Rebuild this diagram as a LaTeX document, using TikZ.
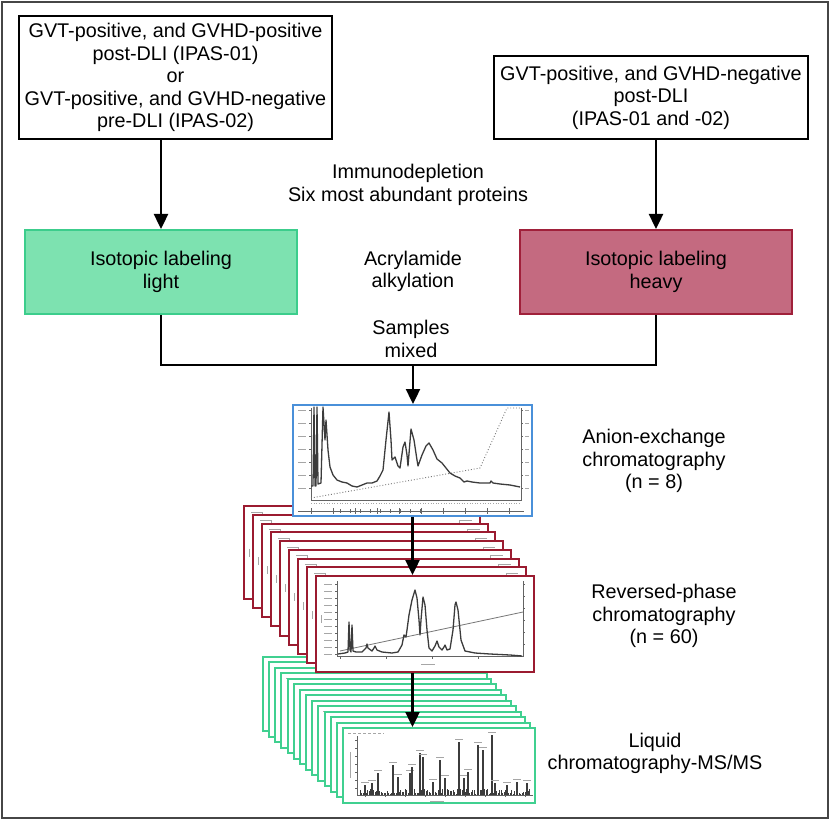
\documentclass[tikz,border=0pt]{standalone}
\usepackage{fontspec}
\setmainfont{Liberation Sans}
\usetikzlibrary{arrows.meta}
\definecolor{lightgreen}{RGB}{125,226,176}
\definecolor{greenedge}{RGB}{60,205,140}
\definecolor{heavyred}{RGB}{196,106,128}
\definecolor{rededge}{RGB}{160,32,58}
\definecolor{framered}{RGB}{155,27,48}
\definecolor{framegreen}{RGB}{64,208,144}
\definecolor{blueedge}{RGB}{74,144,217}
\definecolor{plotgray}{RGB}{60,60,60}
\definecolor{framegray}{RGB}{70,70,70}
\begin{document}
\begin{tikzpicture}[x=1pt,y=-1pt,
  lbl/.style={align=center, font=\fontsize{19.8}{22.6}\selectfont, inner sep=0pt},
  topbox/.style={lbl, draw=black, line width=2pt, fill=white},
  lightbox/.style={lbl, draw=greenedge, line width=2pt, fill=lightgreen},
  heavybox/.style={lbl, draw=rededge, line width=2pt, fill=heavyred},
  rframe/.style={draw=framered, line width=2pt, fill=white},
  gframe/.style={draw=framegreen, line width=2pt, fill=white},
  bframe/.style={draw=blueedge, line width=2pt, fill=white},
  conn/.style={line width=2.4pt, draw=black},
  arr/.style={conn, -{Triangle[length=15pt,width=14pt]}},
  curve/.style={draw=plotgray, line width=1.3pt, line join=round},
  axis/.style={draw=plotgray!80, line width=0.6pt},
  tiny/.style={draw=gray!70, line width=0.6pt}]
\useasboundingbox (0,0) rectangle (830,821);
\fill[white] (0,0) rectangle (830,821);
\draw[framegray, line width=1.5pt] (2,2) rectangle (828,818);

% top boxes
\node[topbox, minimum width=313pt, minimum height=123pt] (tl) at (175.5,77.5)
  {GVT-positive, and GVHD-positive\\post-DLI (IPAS-01)\\or\\GVT-positive, and GVHD-negative\\pre-DLI (IPAS-02)};
\node[topbox, minimum width=314pt, minimum height=83pt] (tr) at (651,97.5)
  {GVT-positive, and GVHD-negative\\post-DLI\\(IPAS-01 and -02)};
\node[lbl] (immuno) at (408,185) {Immunodepletion\\Six most abundant proteins};

% labeling boxes
\node[lightbox, minimum width=272pt, minimum height=84pt] (light) at (161,272) {Isotopic labeling\\light};
\node[heavybox, minimum width=272pt, minimum height=84pt] (heavy) at (656,272) {Isotopic labeling\\heavy};
\node[lbl] (acryl) at (413,271.5) {Acrylamide\\alkylation};
\node[lbl] (mixed) at (411,339) {Samples\\mixed};

% right labels
\node[lbl] (anion) at (654,461) {Anion-exchange\\chromatography\\(n = 8)};
\node[lbl] (rp) at (664,616) {Reversed-phase\\chromatography\\(n = 60)};
\node[lbl] (lc) at (655,753.5) {Liquid\\chromatography-MS/MS};

% green stack (LC-MS/MS spectra)
\foreach \i in {0,...,12}{
  \pgfmathsetmacro\l{263+6.15*\i}
  \pgfmathsetmacro\t{657+5.46*\i}
  \pgfmathsetmacro\w{209-1.3*\i}
  \pgfmathsetmacro\h{74+0.07*\i}
  \draw[gframe] (\l,\t) rectangle ++(\w,\h);
  \draw[tiny, dash pattern=on 3pt off 2pt] (\l+5,\t+5) -- ++(36,0);
  \draw[tiny] (\l+7,\t+24) -- ++(0,24);
}
\node[gframe, minimum width=192pt, minimum height=75pt, inner sep=0pt] (gf) at (439,765.5) {};
\draw[axis] (357,736) -- (357,795) -- (533,795);
\foreach \yy in {740,748,...,792} \draw[axis] (355,\yy) -- (357,\yy);
\foreach \xx in {365,385,...,525} \draw[axis] (\xx,795) -- (\xx,797);
\draw[tiny, dash pattern=on 3pt off 2pt] (348,733) -- ++(36,0);
\draw[tiny] (350,752) -- ++(0,26);
\draw[tiny] (430,801) -- ++(14,0);
\pgfmathsetseed{7}
\foreach \xx in {360,361.5,...,530}{
  \pgfmathsetmacro\hh{1+5*rnd}
  \draw[plotgray, line width=0.8pt] (\xx,795) -- ++(0,-\hh);
}
\foreach \xx/\yy in {365/785,372/783,378/773,393/765,398/777,410/773,412/767,420/753,423/757,433/782,440/760,445/778,459/742,464/778,468/772,478/745,483/750,492/735,495/783,507/785,517/782,527/783}{
  \draw[plotgray, line width=1.1pt] (\xx,795) -- (\xx,\yy);
  \draw[tiny, line width=0.5pt] (\xx-4,\yy-3) -- ++(8,0);
}

% red stack (reversed-phase chromatograms)
\foreach \i in {0,...,7}{
  \pgfmathsetmacro\l{244+9*\i}
  \pgfmathsetmacro\t{506+8.75*\i}
  \pgfmathsetmacro\w{228-1.25*\i}
  \pgfmathsetmacro\h{93+0.375*\i}
  \draw[rframe] (\l,\t) rectangle ++(\w,\h);
  \draw[tiny, dotted, line width=1pt] (\l+8,\t+14) -- (\l+8,\t+\h-10);
  \draw[tiny] (\l+7,\t+6) -- ++(11,0) -- ++(0,4);
  \draw[tiny] (\l+\w-20,\t+10) -- ++(0,-4) -- ++(12,0);
  \draw[tiny] (\l+5,\t+\h/2-4) -- ++(0,8);
}
\node[rframe, minimum width=218pt, minimum height=96pt, inner sep=0pt] (rf) at (425,624) {};
\draw[axis] (337,581) -- (337,656) -- (523,656) -- (523,581);
\foreach \yy in {584,591,...,654} {\draw[axis] (335,\yy) -- (337,\yy); \draw[tiny, line width=0.5pt] (324,\yy) -- (332,\yy);}
\foreach \yy in {584,596,...,654} \draw[axis] (523,\yy) -- (525,\yy);
\foreach \xx in {340,386,...,523} \draw[axis] (\xx,656) -- (\xx,659);
\draw[tiny] (421,664) -- ++(14,0);
\draw[tiny] (321,615) -- ++(0,8);
\draw[plotgray!70, line width=0.8pt] (340,651) -- (523,612);
\draw[curve] plot coordinates {(338,654)(345,653)(348,652)(349,622)(350,650)(351,652)(352,625)(353,651)(356,652)(362,652)(366,648)(367,644)(368,648)(372,651)(374,648)(375,646)(377,650)(382,652)(392,653)(398,652)(402,645)(404,635)(406,637)(407,630)(409,615)(412,600)(415,590)(417,598)(419,620)(420,635)(421,620)(423,597)(425,605)(427,630)(429,648)(432,651)(435,646)(437,641)(439,647)(442,650)(444,647)(445,645)(447,650)(450,649)(453,630)(455,605)(456,602)(458,610)(461,640)(465,651)(475,653)(490,654)(510,655)(522,656)};

% blue box (anion-exchange chromatogram)
\node[bframe, minimum width=239pt, minimum height=111pt, inner sep=0pt] (blue) at (412.5,460.5) {};
\draw[axis] (311,408) -- (311,500) -- (521,500) -- (521,408);
\foreach \yy in {410,423,...,498} {\draw[axis] (309,\yy) -- (311,\yy); \draw[tiny, line width=0.5pt] (298,\yy) -- (306,\yy);}
\foreach \yy in {410,423,...,498} {\draw[axis] (521,\yy) -- (523,\yy); \draw[tiny, line width=0.5pt] (525,\yy) -- (529,\yy);}
\draw[axis] (298,511) -- (524,511);
\foreach \xx in {311,333,...,521} \draw[axis] (\xx,508) -- (\xx,514);
\foreach \xx in {340,350,...,420} \draw[axis] (\xx,509) -- (\xx,513);
\draw[tiny, dotted, line width=0.8pt] (311,503) -- (521,503);
\draw[plotgray!70, dotted, line width=0.9pt] (311,498) -- (480,468) -- (507,408) -- (521,408);
\draw[curve] plot coordinates {(311,486)(313,486)(314,407)(315,486)(316,486)(317,407)(318,484)(321,483)(323,407)(325,440)(326,420)(328,450)(330,467)(333,475)(337,480)(342,482)(347,483)(352,486)(357,487)(362,485)(367,483)(372,483)(377,481)(380,476)(383,470)(386,440)(389,412)(391,440)(392,460)(395,457)(398,466)(400,468)(403,447)(405,442)(407,455)(408,466)(411,429)(414,440)(417,460)(418,466)(422,455)(426,446)(429,443)(433,450)(437,459)(442,463)(446,468)(450,473)(455,476)(460,478)(464,482)(467,481)(472,482)(480,483)(490,483)(491,481)(493,483)(500,484)(510,485)(520,487)};

% connectors
\coordinate (mj) at (413,365);
\draw[arr] (tl.south -| light.north) -- (light.north);
\draw[arr] (tr.south -| heavy.north) -- (heavy.north);
\draw[conn, line join=miter] (light.south) |- (mj) -| (heavy.south);
\draw[arr] (mj) -- (mj |- blue.north);
\draw[arr] (blue.south) -- (blue.south |- rf.north);
\draw[arr] (blue.south |- rf.south) -- (blue.south |- gf.north);
\end{tikzpicture}
\end{document}
